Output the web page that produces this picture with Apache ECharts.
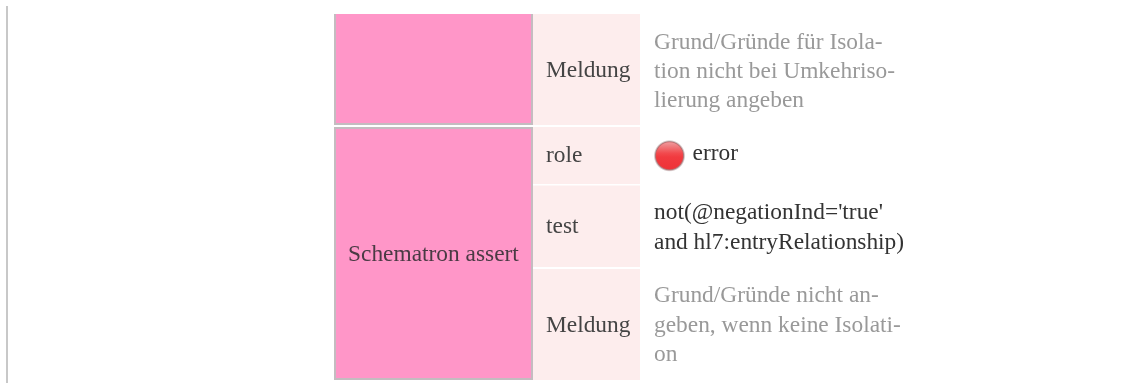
<!DOCTYPE html>
<html><head><meta charset="utf-8">
<style>html,body{margin:0;padding:0;background:#fff}#c{width:1131px;height:383px}</style>
<script src="https://cdn.jsdelivr.net/npm/echarts@6/dist/echarts.min.js"></script>
</head><body><div id="c"></div>
<script>
const groupLabels = ['', 'Schematron assert'];
const attributeLabels = ['Meldung', 'role', 'test', 'Meldung'];
const attributeValues = [
  ['Grund/Gründe für Isola-', 'tion nicht bei Umkehriso-', 'lierung angeben'],
  ['error'],
  ["not(@negationInd='true'", 'and hl7:entryRelationship)'],
  ['Grund/Gründe nicht an-', 'geben, wenn keine Isolati-', 'on']
];
// layout (pixels of the page)
const groupBoxes = [[334,533,14,125],[334,533,127,380]];
const attrBoxes = [[533,640,14,125],[533,640,127,184],[533,640,185.5,267],[533,640,269,380]];
const attrBase = [77,162,233,332];
const valueBase = [[49,78,107],[160],[219,249],[302,332,361]];
const FONT = '"Liberation Serif", serif';
const FS = 23.4;
const DROP = 5.5;

const chart = echarts.init(document.getElementById('c'), null, {renderer:'canvas'});
function txt(api,x,y,t,fill,fs){
  const p = api.coord([x,y+DROP]);
  return {type:'text',x:p[0],y:p[1],style:{text:t,fill:fill,font:(fs||FS)+'px '+FONT,textAlign:'left',verticalAlign:'bottom'}};
}
function rect(api,x0,x1,y0,y1,fill){
  const a=api.coord([x0,y0]),b=api.coord([x1,y1]);
  return {type:'rect',shape:{x:a[0],y:a[1],width:b[0]-a[0],height:b[1]-a[1]},style:{fill:fill}};
}
const items = [0];
chart.setOption({
  animation:false,
  backgroundColor:'#ffffff',
  grid:{left:0,right:0,top:0,bottom:0},
  xAxis:{type:'value',min:0,max:1131,show:false},
  yAxis:{type:'value',min:0,max:383,inverse:true,show:false},
  series:[{
    type:'custom',coordinateSystem:'cartesian2d',silent:true,clip:false,
    data:items,
    renderItem:(params,api)=>{
      const ch=[];
      ch.push(rect(api,6,8,6,383,'#c8c8c8'));
      groupBoxes.forEach((b,i)=>{
        ch.push(rect(api,b[0],b[1],b[2],b[3],'#c4bcc0'));
        ch.push(rect(api,b[0]+2,b[1]-2,i==0?b[2]:b[2]+2,b[3]-2,'#ff96c8'));
        if(groupLabels[i]) ch.push(txt(api,348,261,groupLabels[i],'#4a3a44'));
      });
      attrBoxes.forEach((b,i)=>{
        ch.push(rect(api,b[0],b[1],b[2],b[3],'#fdeded'));
        ch.push(txt(api,546,attrBase[i],attributeLabels[i],'#444444'));
        const grey = attributeValues[i].length===3;
        attributeValues[i].forEach((l,k)=>{
          const x = i===1?692.5:654;
          ch.push(txt(api,x,valueBase[i][k],l,grey?'#999999':'#333333'));
        });
      });
      const c=api.coord([669.5,155.8]);
      ch.push({type:'circle',shape:{cx:c[0],cy:c[1],r:16},style:{fill:{type:'radial',x:0.5,y:0.5,r:0.5,colorStops:[{offset:0,color:'#ef3a3f'},{offset:0.78,color:'#ef3a3f'},{offset:0.88,color:'#b0787a'},{offset:1,color:'rgba(190,190,190,0)'}]}}});
      ch.push({type:'circle',shape:{cx:c[0],cy:c[1],r:13.5},style:{fill:{type:'linear',x:0,y:0,x2:0,y2:1,colorStops:[{offset:0,color:'#ee9a9c'},{offset:0.4,color:'#f24a4e'},{offset:0.55,color:'#f13a3f'},{offset:1,color:'#ee3338'}]}}});
      return {type:'group',children:ch};
    }
  }]
});
</script></body></html>
